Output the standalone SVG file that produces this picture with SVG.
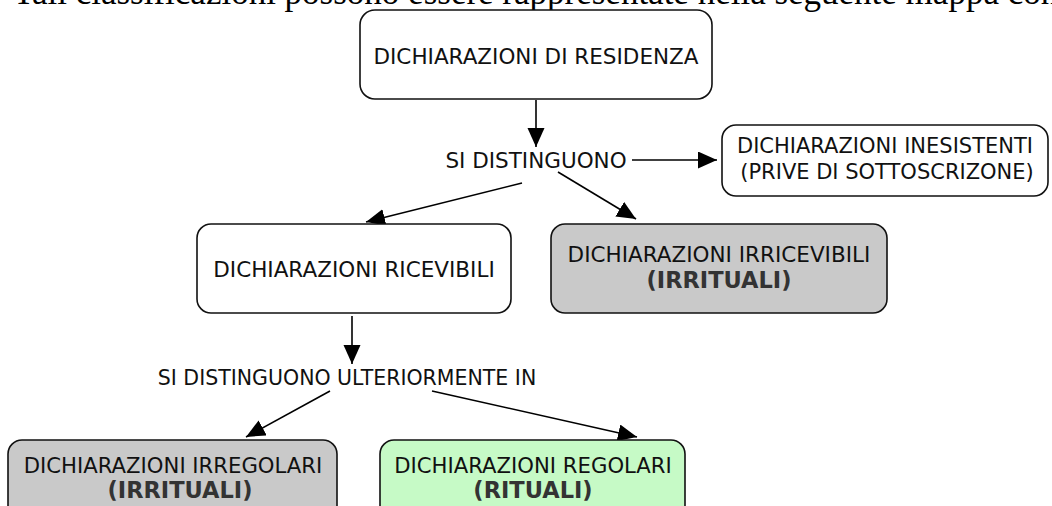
<svg xmlns="http://www.w3.org/2000/svg" width="1052" height="506" viewBox="0 0 1052 506">
  <defs>
    <marker id="arr" markerUnits="userSpaceOnUse" markerWidth="20" markerHeight="18" refX="19" refY="8.5" orient="auto">
      <path d="M0,0 L19,8.5 L0,17 Z" fill="#000"/>
    </marker>
    <style>
      .box { stroke: #111; stroke-width: 1.6; }
      .white { fill: #fff; }
      .gray { fill: #c9c9c9; }
      .green { fill: #c6fac6; }
      .t { font-family: "DejaVu Sans", Verdana, sans-serif; font-size: 21.5px; fill: #111; text-anchor: middle; }
      .b { font-family: "DejaVu Sans", Verdana, sans-serif; font-size: 22.5px; font-weight: bold; fill: #333; text-anchor: middle; }
      .conn { stroke: #000; stroke-width: 1.6; fill: none; marker-end: url(#arr); }
      .hdr { font-family: "Liberation Serif", "Times New Roman", serif; font-size: 35px; fill: #000; }
    </style>
  </defs>
  <rect width="1052" height="506" fill="#fff"/>
  <text class="hdr" x="13" y="4">Tali classificazioni possono essere rappresentate nella seguente mappa con</text>

  <g id="connectors">
    <line class="conn" x1="536" y1="100" x2="536" y2="147"/>
    <line class="conn" x1="632" y1="160" x2="717" y2="160"/>
    <line class="conn" x1="522" y1="183" x2="366" y2="222"/>
    <line class="conn" x1="558" y1="172" x2="636" y2="219"/>
    <line class="conn" x1="352" y1="316" x2="352" y2="364"/>
    <line class="conn" x1="330" y1="391" x2="246" y2="437"/>
    <line class="conn" x1="432" y1="391" x2="637" y2="437"/>
  </g>

  <g id="node-residenza">
    <rect class="box white" x="360" y="10" width="352" height="89" rx="15"/>
    <text class="t" x="536" y="64">DICHIARAZIONI DI RESIDENZA</text>
  </g>

  <g id="label-si-distinguono">
    <text class="t" x="536" y="168">SI DISTINGUONO</text>
  </g>

  <g id="node-inesistenti">
    <rect class="box white" x="722" y="125" width="326" height="71" rx="14"/>
    <text class="t" x="885" y="153" style="font-size:21px">DICHIARAZIONI INESISTENTI</text>
    <text class="t" x="887" y="179" style="font-size:21px">(PRIVE DI SOTTOSCRIZONE)</text>
  </g>

  <g id="node-ricevibili">
    <rect class="box white" x="197" y="224" width="314" height="89" rx="14"/>
    <text class="t" x="354" y="277">DICHIARAZIONI RICEVIBILI</text>
  </g>

  <g id="node-irricevibili">
    <rect class="box gray" x="551" y="224" width="336" height="89" rx="14"/>
    <text class="t" x="719" y="262">DICHIARAZIONI IRRICEVIBILI</text>
    <text class="b" x="719" y="288">(IRRITUALI)</text>
  </g>

  <g id="label-ulteriormente">
    <text class="t" x="347" y="385" style="font-size:20.5px">SI DISTINGUONO ULTERIORMENTE IN</text>
  </g>

  <g id="node-irregolari">
    <rect class="box gray" x="8" y="440" width="329" height="80" rx="14"/>
    <text class="t" x="173" y="473" style="font-size:21.2px">DICHIARAZIONI IRREGOLARI</text>
    <text class="b" x="180" y="498">(IRRITUALI)</text>
  </g>

  <g id="node-regolari">
    <rect class="box green" x="380" y="440" width="305" height="80" rx="14"/>
    <text class="t" x="533" y="473" style="font-size:21.2px">DICHIARAZIONI REGOLARI</text>
    <text class="b" x="533" y="498">(RITUALI)</text>
  </g>
</svg>
